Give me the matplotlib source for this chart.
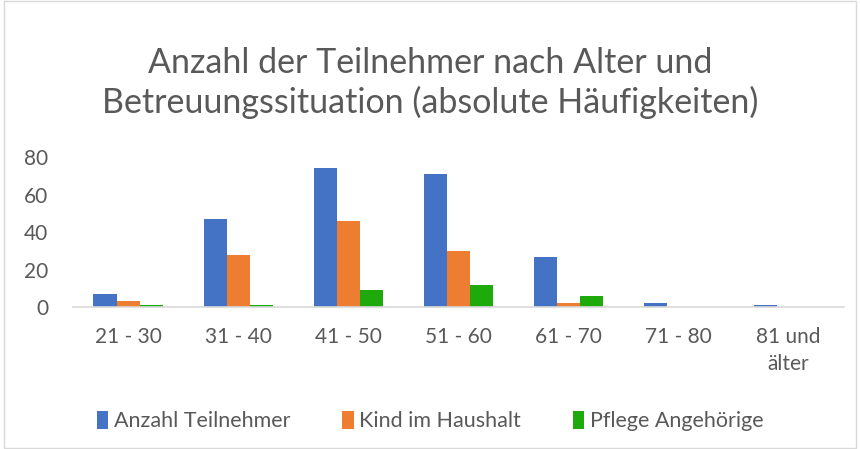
import matplotlib
matplotlib.use("Agg")
import matplotlib.pyplot as plt
import numpy as np

categories = ["21 - 30", "31 - 40", "41 - 50", "51 - 60", "61 - 70", "71 - 80", "81 und\nälter"]
teilnehmer = [7, 47, 74, 71, 27, 2, 1]
kind = [3, 28, 46, 30, 2, 0, 0]
pflege = [1, 1, 9, 12, 6, 0, 0]
series_names = ["Anzahl Teilnehmer", "Kind im Haushalt", "Pflege Angehörige"]
colors = ["#4472C4", "#ED7D31", "#1EAA0A"]

plt.rcParams['font.family'] = ['Lato', 'DejaVu Sans']
fig = plt.figure(figsize=(8.6, 4.49), dpi=100)
ax = fig.add_axes([0.085, 0.316, 0.896, 0.334])

x = np.arange(len(categories))
w = 0.21
for i, (vals, name, c) in enumerate(zip([teilnehmer, kind, pflege], series_names, colors)):
    ax.bar(x + (i - 1) * w, vals, width=w, color=c, label=name)

ax.set_xlim(-0.5, len(categories) - 0.5)
ax.set_ylim(0, 80)
ax.set_yticks([0, 20, 40, 60, 80])
ax.set_xticks(x)
ax.set_xticklabels(categories, linespacing=1.45)
for s in ["top", "right", "left"]:
    ax.spines[s].set_visible(False)
ax.spines["bottom"].set_color("#d9d9d9")
ax.spines["bottom"].set_linewidth(1.2)
ax.tick_params(axis="both", length=0, labelsize=15, colors="#595959")
ax.tick_params(axis="x", pad=14)
ax.tick_params(axis="y", pad=18)

fig.text(0.5, 0.815, "Anzahl der Teilnehmer nach Alter und\nBetreuungssituation (absolute Häufigkeiten)",
         ha="center", va="center", fontsize=24.5, color="#595959", linespacing=1.25)

leg = fig.legend(loc="center", bbox_to_anchor=(0.5, 0.062), ncol=3, frameon=False,
                 fontsize=15.5, handlelength=0.55, handleheight=0.9, handletextpad=0.25,
                 columnspacing=2.4, labelcolor="#595959")

fig.patches.append(plt.Rectangle((0.005, 0.003), 0.99, 0.994, transform=fig.transFigure,
                                 fill=False, edgecolor="#d9d9d9", linewidth=1))
fig.savefig("out.png", dpi=100)
